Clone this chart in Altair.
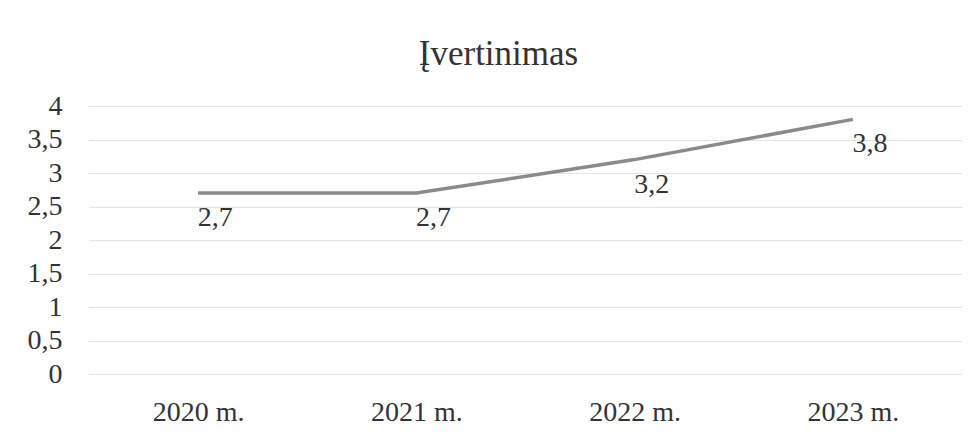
import altair as alt
import pandas as pd

years = ["2020 m.", "2021 m.", "2022 m.", "2023 m."]
values = [2.7, 2.7, 3.2, 3.8]
labels = ["2,7", "2,7", "3,2", "3,8"]

df = pd.DataFrame({"year": years, "value": values, "label": labels})

FONT = "'Liberation Serif', 'Times New Roman', Times, serif"
TXT = "#333333"

base = alt.Chart(df).encode(
    x=alt.X("year:N", sort=years, title=None,
            scale=alt.Scale(paddingInner=0, paddingOuter=0.5),
            axis=alt.Axis(labelAngle=0, labelFontSize=28, labelFont=FONT,
                          labelColor=TXT, ticks=False, domain=False,
                          grid=False, labelPadding=24)),
    y=alt.Y("value:Q", title=None,
            scale=alt.Scale(domain=[0, 4]),
            axis=alt.Axis(values=[0, 0.5, 1, 1.5, 2, 2.5, 3, 3.5, 4],
                          labelExpr="replace(format(datum.value, '~g'), '.', ',')",
                          labelFontSize=28, labelFont=FONT, labelColor=TXT,
                          ticks=False, domain=False, labelPadding=27,
                          gridColor="#e3e3e3", gridWidth=1)),
)

line = base.mark_line(color="#8a8a8a", strokeWidth=3.5)
text = base.mark_text(dy=25, dx=17, fontSize=28, font=FONT, color=TXT).encode(
    text="label:N")

chart = (line + text).properties(
    width=873, height=268,
    background="white",
    title=alt.TitleParams("Įvertinimas", font=FONT, fontSize=35, fontWeight="normal",
                          color=TXT, offset=20, anchor="middle", dx=-27),
    padding={"left": 81, "top": 98, "right": 4, "bottom": 57},
    autosize=alt.AutoSizeParams(type="none"),
).configure_view(stroke=None, strokeWidth=0)

chart.save("out.html", embed_options={"renderer": "svg", "actions": False})
